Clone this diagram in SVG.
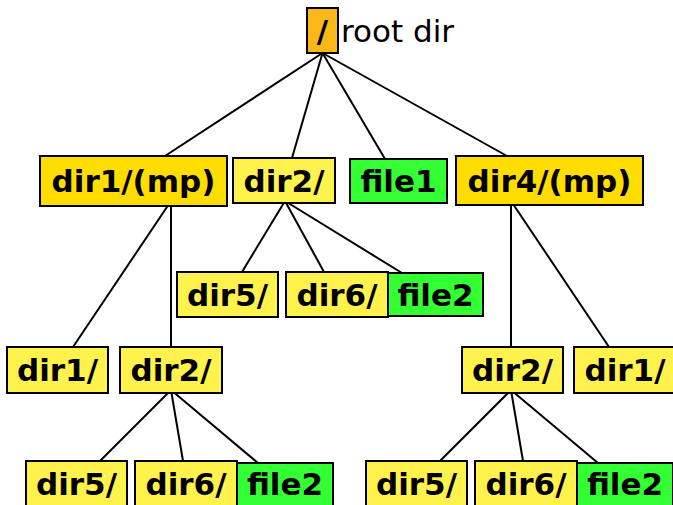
<svg xmlns="http://www.w3.org/2000/svg" width="673" height="505" viewBox="0 0 673 505">
<style>
.b{stroke:#000;stroke-width:2}
.root{fill:#FBB818}
.mp{fill:#FFDD00}
.d{fill:#FFF24D}
.f{fill:#33FF33}
.t{font-family:"DejaVu Sans",sans-serif;font-weight:bold;font-size:31px;text-anchor:middle;fill:#000}
.r{font-family:"DejaVu Sans",sans-serif;font-size:31px;fill:#000}
.c line{stroke:#000;stroke-width:2}
</style>
<rect width="673" height="505" fill="#fff"/>
<g class="c" id="connectors">
<line x1="322.5" y1="53" x2="165" y2="156"/>
<line x1="322.5" y1="53" x2="292" y2="158"/>
<line x1="322.5" y1="53" x2="385" y2="159"/>
<line x1="322.5" y1="53" x2="507" y2="156"/>
<line x1="171" y1="201" x2="73" y2="347"/>
<line x1="171" y1="201" x2="171" y2="347"/>
<line x1="285" y1="201" x2="242" y2="272"/>
<line x1="285" y1="201" x2="324" y2="272"/>
<line x1="285" y1="201" x2="402" y2="273"/>
<line x1="511" y1="201" x2="511" y2="347"/>
<line x1="511" y1="201" x2="609" y2="347"/>
<line x1="171" y1="390" x2="100" y2="461"/>
<line x1="171" y1="390" x2="183" y2="461"/>
<line x1="171" y1="390" x2="258" y2="463"/>
<line x1="511" y1="390" x2="440" y2="461"/>
<line x1="511" y1="390" x2="523" y2="461"/>
<line x1="511" y1="390" x2="598" y2="463"/>
</g>
<g id="root"><rect class="b root" x="307" y="8" width="31" height="45"/><text class="t" x="322.5" y="41.5">/</text></g>
<text class="r" x="341" y="42">root dir</text>
<g id="dir1mp"><rect class="b mp" x="40" y="156" width="187" height="50"/><text class="t" x="133.5" y="192">dir1/(mp)</text></g>
<g id="dir2a"><rect class="b d" x="233" y="158" width="102" height="45"/><text class="t" x="284" y="191.5">dir2/</text></g>
<g id="file1"><rect class="b f" x="350" y="159" width="97" height="44"/><text class="t" x="398.5" y="192">file1</text></g>
<g id="dir4mp"><rect class="b mp" x="456" y="156" width="187" height="49"/><text class="t" x="549.5" y="192">dir4/(mp)</text></g>
<g id="dir5a"><rect class="b d" x="177" y="272" width="101" height="45"/><text class="t" x="227.5" y="305.5">dir5/</text></g>
<g id="dir6a"><rect class="b d" x="286" y="272" width="102" height="45"/><text class="t" x="337" y="305.5">dir6/</text></g>
<g id="file2a"><rect class="b f" x="388" y="273" width="95" height="43"/><text class="t" x="435.5" y="305.5">file2</text></g>
<g id="dir1b"><rect class="b d" x="7" y="347" width="101" height="46"/><text class="t" x="57.5" y="381">dir1/</text></g>
<g id="dir2b"><rect class="b d" x="120" y="347" width="102" height="46"/><text class="t" x="171" y="381">dir2/</text></g>
<g id="dir2c"><rect class="b d" x="462" y="347" width="101" height="46"/><text class="t" x="512.5" y="381">dir2/</text></g>
<g id="dir1c"><rect class="b d" x="574" y="347" width="102" height="46"/><text class="t" x="625" y="381">dir1/</text></g>
<g id="dir5b"><rect class="b d" x="26" y="461" width="101" height="45"/><text class="t" x="76.5" y="494.5">dir5/</text></g>
<g id="dir6b"><rect class="b d" x="135" y="461" width="102" height="45"/><text class="t" x="186" y="494.5">dir6/</text></g>
<g id="file2b"><rect class="b f" x="237" y="463" width="96" height="43"/><text class="t" x="285" y="494.5">file2</text></g>
<g id="dir5c"><rect class="b d" x="366" y="461" width="101" height="45"/><text class="t" x="416.5" y="494.5">dir5/</text></g>
<g id="dir6c"><rect class="b d" x="475" y="461" width="102" height="45"/><text class="t" x="526" y="494.5">dir6/</text></g>
<g id="file2c"><rect class="b f" x="577" y="463" width="96" height="43"/><text class="t" x="625" y="494.5">file2</text></g>
</svg>
